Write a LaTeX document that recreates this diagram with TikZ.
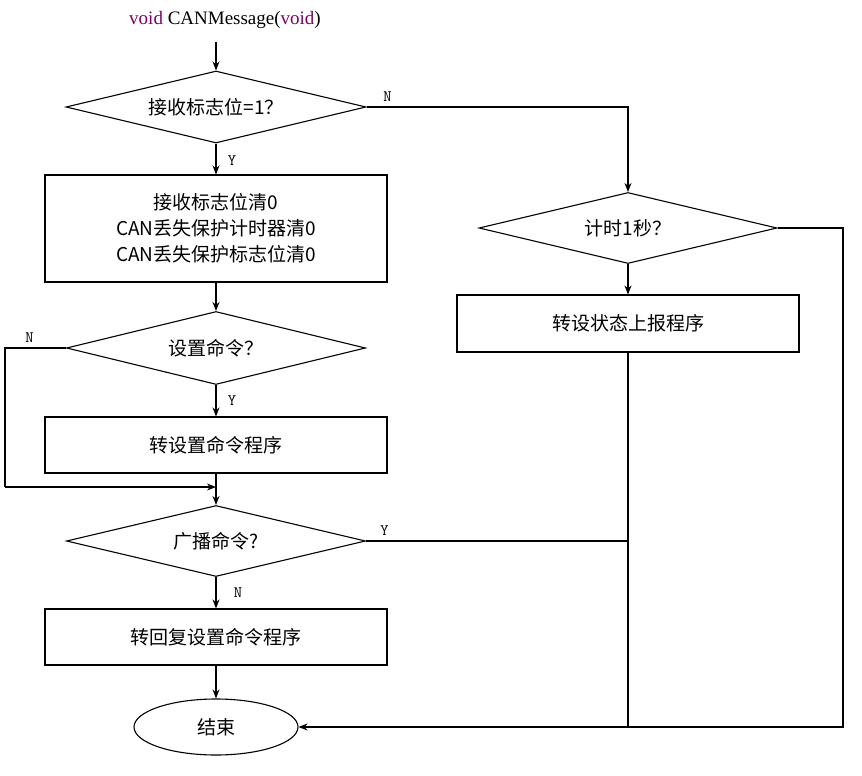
\documentclass[tikz,border=0pt]{standalone}
\usepackage{fontspec}
\setmainfont{Liberation Serif}
\newfontfamily\cjk{Noto Sans CJK SC}
\usetikzlibrary{shapes.geometric,arrows.meta}
\definecolor{kw}{RGB}{128,0,100}
\begin{document}
\begin{tikzpicture}[x=1pt,y=-1pt,
  line width=1.1pt,
  arr/.style={-{Stealth[length=9pt,width=7pt]}},
  box/.style={draw,rectangle,minimum width=342pt,font=\cjk\fontsize{19}{26}\selectfont,align=center,inner sep=0pt},
  dia/.style={draw,diamond,aspect=4.15,inner sep=0pt,font=\cjk\fontsize{19}{20}\selectfont},
  lbl/.style={font=\fontsize{16}{16}\selectfont\ttfamily}]
\useasboundingbox (0,0) rectangle (862,776);
\node (t) at (225,20) {\fontsize{19}{19}\selectfont\textcolor{kw}{void} CANMessage(\textcolor{kw}{void})};
\coordinate (t0) at (216,42);
\node[dia,minimum width=300pt,minimum height=72pt] (d1) at (216,107) {接收标志位=1？};
\node[box,minimum height=107pt] (r1) at (216,228.5) {接收标志位清0\\CAN丢失保护计时器清0\\CAN丢失保护标志位清0};
\node[dia,minimum width=299pt,minimum height=73pt] (d3) at (216,348) {设置命令？};
\node[box,minimum height=56pt] (r2) at (216,445) {转设置命令程序};
\coordinate (m) at (216,487);
\node[dia,minimum width=299pt,minimum height=71pt] (d4) at (216,541) {广播命令?};
\node[box,minimum height=56pt] (r3) at (216,637) {转回复设置命令程序};
\node[draw,ellipse,minimum width=164pt,minimum height=56pt,font=\cjk\fontsize{19}{20}\selectfont] (e) at (216,727) {结束};
\node[dia,minimum width=298pt,minimum height=71pt] (d2) at (628,228) {计时1秒？};
\node[box,minimum height=57pt] (r4) at (628,323.5) {转设状态上报程序};
\coordinate (j) at (628,727);
\draw[arr] (t0) -- (d1.north);
\draw[arr] (d1.south) -- node[lbl,right=8pt,pos=0.55]{Y} (r1.north);
\draw[arr] (d1.east) -- node[lbl,above=2pt,pos=0.08]{N} (628,107) -- (d2.north);
\draw[arr] (r1.south) -- (d3.north);
\draw[arr] (d3.south) -- node[lbl,right=8pt]{Y} (r2.north);
\draw (d3.west) -- node[lbl,above=2pt,pos=0.6]{N} (5,348) -- (5,487);
\draw[arr] (5,487) -- (m);
\draw[arr] (r2.south) -- (d4.north);
\draw (d4.east) -- node[lbl,above=2pt,pos=0.07]{Y} (628,541);
\draw[arr] (d4.south) -- node[lbl,right=14pt]{N} (r3.north);
\draw[arr] (r3.south) -- (e.north);
\draw[arr] (d2.south) -- (r4.north);
\draw (r4.south) -- (j);
\draw[arr] (d2.east) -- (843,228) -- (843,727) -- (e.east);
\end{tikzpicture}
\end{document}
